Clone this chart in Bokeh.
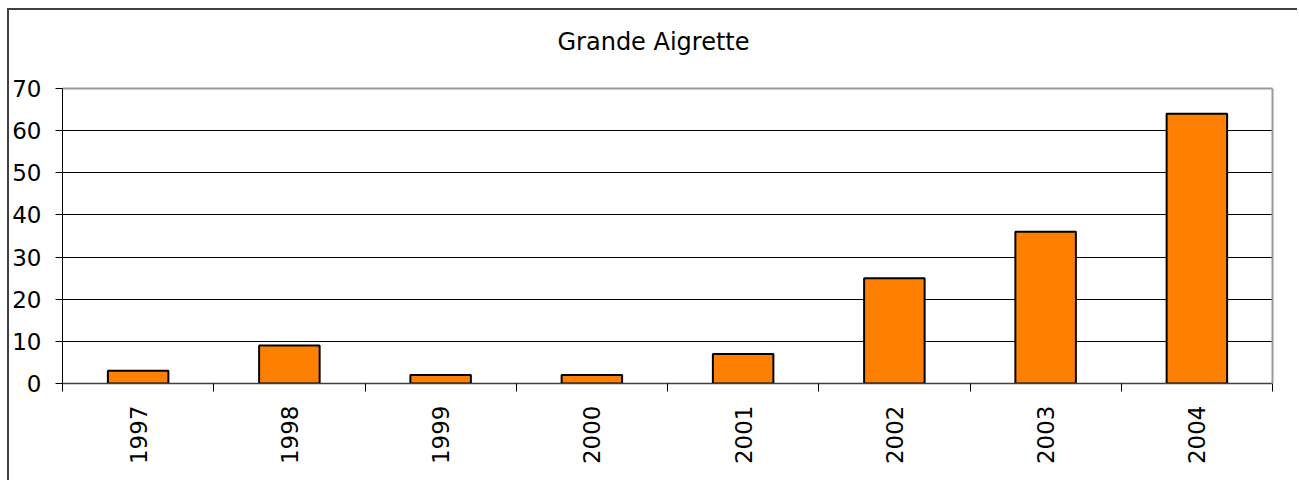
import math
from bokeh.plotting import figure
from bokeh.layouts import column
from bokeh.models import FixedTicker, Range1d, LinearAxis, Title, ColumnDataSource
from bokeh.embed import file_html
from bokeh.resources import INLINE

years = ["1997", "1998", "1999", "2000", "2001", "2002", "2003", "2004"]
counts = [3, 9, 2, 2, 7, 25, 36, 64]
y_ticks = [0, 10, 20, 30, 40, 50, 60, 70]
title_text = "Grande Aigrette"

xs = [i + 0.5 for i in range(len(years))]
src = ColumnDataSource(dict(x=xs, top=counts))

fig = figure(width=1288, height=470, output_backend="svg", toolbar_location=None,
             x_range=Range1d(0, len(years)), y_range=Range1d(0, 70), title=None,
             min_border_left=53, min_border_right=25, min_border_top=78, min_border_bottom=97)
fig.outline_line_color = None
fig.background_fill_color = "white"
fig.border_fill_color = "white"

fig.vbar(x="x", top="top", width=0.4, bottom=0, source=src,
         fill_color="#FF8000", line_color="black", line_width=2)

FONT = "DejaVu Sans"

# x axis
fig.xaxis.ticker = FixedTicker(ticks=xs, minor_ticks=list(range(len(years) + 1)))
fig.xaxis.major_label_overrides = {x: y for x, y in zip(xs, years)}
fig.xaxis.major_label_orientation = math.pi / 2
fig.xaxis.major_tick_line_color = None
fig.xaxis.major_tick_out = 0
fig.xaxis.major_tick_in = 0
fig.xaxis.minor_tick_out = 8
fig.xaxis.minor_tick_in = 0
fig.xaxis.minor_tick_line_color = "black"
fig.xaxis.axis_line_color = "#404040"
fig.xaxis.axis_line_width = 1.5
fig.xaxis.major_label_text_font = FONT
fig.xaxis.major_label_text_font_size = "23px"
fig.xaxis.major_label_text_color = "black"
fig.xaxis.major_label_standoff = 14

# y axis
fig.yaxis.ticker = FixedTicker(ticks=y_ticks)
fig.yaxis.minor_tick_line_color = None
fig.yaxis.major_tick_out = 7
fig.yaxis.major_tick_in = 0
fig.yaxis.major_tick_line_color = "black"
fig.yaxis.axis_line_color = "black"
fig.yaxis.major_label_text_font = FONT
fig.yaxis.major_label_text_font_size = "23px"
fig.yaxis.major_label_text_color = "black"
fig.yaxis.major_label_standoff = 14

fig.xgrid.grid_line_color = None
fig.ygrid.ticker = FixedTicker(ticks=y_ticks[1:-1])
fig.ygrid.grid_line_color = "black"
fig.ygrid.grid_line_width = 1

# gray frame top/right
right_ax = LinearAxis(ticker=FixedTicker(ticks=[]), axis_line_color="#9a9a9a",
                      axis_line_width=2, major_tick_line_color=None, minor_tick_line_color=None)
top_ax = LinearAxis(ticker=FixedTicker(ticks=[]), axis_line_color="#9a9a9a",
                    axis_line_width=2, major_tick_line_color=None, minor_tick_line_color=None)
fig.add_layout(right_ax, "right")
fig.add_layout(top_ax, "above")

# spacer between frame and title
fig.add_layout(Title(text=" ", text_font=FONT, text_font_size="10px", standoff=20), "above")
fig.add_layout(Title(text=title_text, align="left", offset=495, standoff=0,
                     text_font=FONT, text_font_size="24px", text_font_style="normal",
                     text_color="black"), "above")

p = column(fig, styles={"margin-left": "7px", "margin-top": "8px",
                        "border-left": "2px solid #404040", "border-top": "2px solid #404040"})

open("out.html", "w").write(file_html(p, INLINE))
